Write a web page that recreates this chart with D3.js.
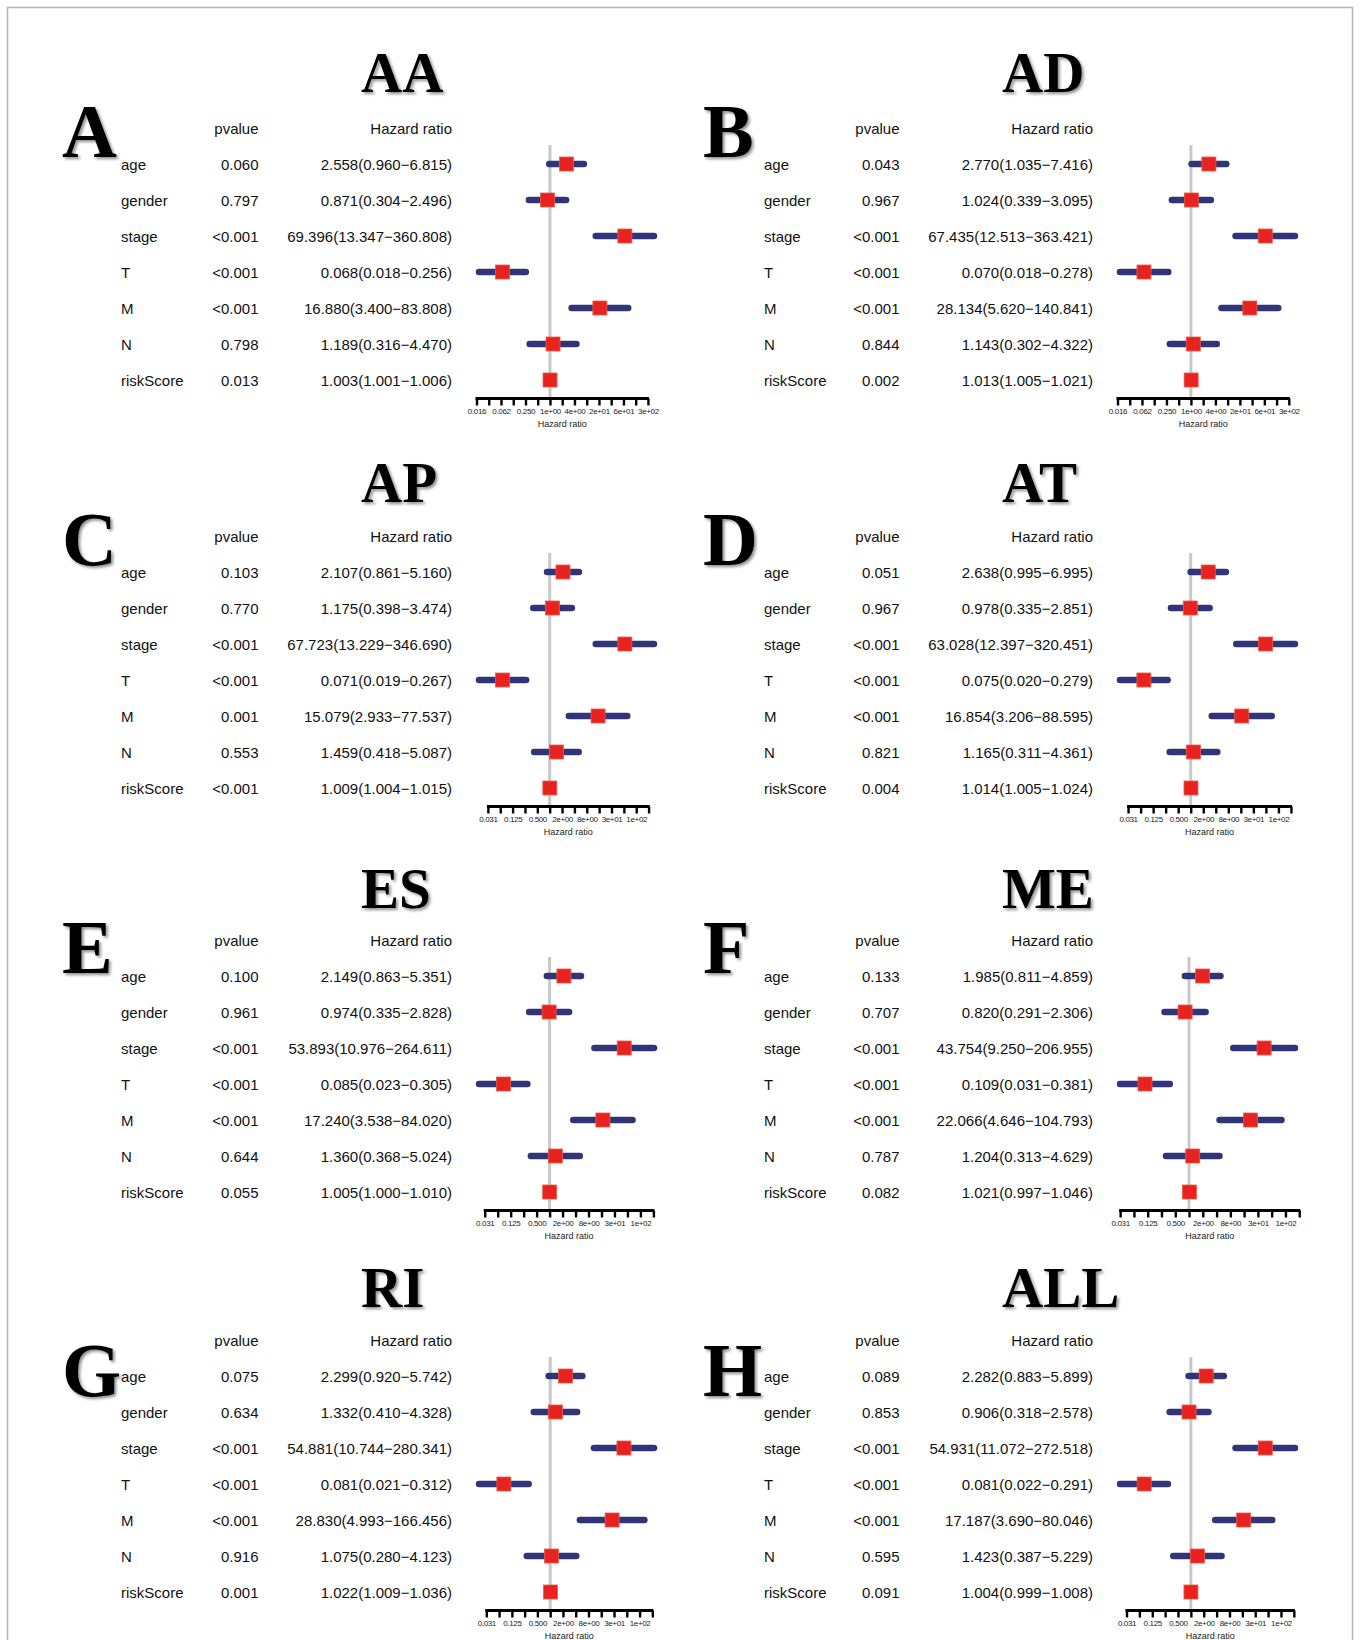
<!DOCTYPE html>
<html>
<head>
<meta charset="utf-8">
<script src="https://cdn.jsdelivr.net/npm/d3@7"></script>
<style>
  body { margin: 0; background: #fff; }
  text { font-family: "Liberation Sans", Arial, sans-serif; }
</style>
</head>
<body>
<div id="graph"></div>
<script>

var w = 1360, h = 1640

// rows of every forest plot
var variables = ['age', 'gender', 'stage', 'T', 'M', 'N', 'riskScore']

var panelNames = ['AA', 'AD', 'AP', 'AT', 'ES', 'ME', 'RI', 'ALL']
var panelLetters = ['A', 'B', 'C', 'D', 'E', 'F', 'G', 'H']

// AA
var aaP = ['0.060', '0.797', '<0.001', '<0.001', '<0.001', '0.798', '0.013']
var aaHR = [2.558, 0.871, 69.396, 0.068, 16.880, 1.189, 1.003]
var aaLow = [0.960, 0.304, 13.347, 0.018, 3.400, 0.316, 1.001]
var aaHigh = [6.815, 2.496, 360.808, 0.256, 83.808, 4.470, 1.006]
// AD
var adP = ['0.043', '0.967', '<0.001', '<0.001', '<0.001', '0.844', '0.002']
var adHR = [2.770, 1.024, 67.435, 0.070, 28.134, 1.143, 1.013]
var adLow = [1.035, 0.339, 12.513, 0.018, 5.620, 0.302, 1.005]
var adHigh = [7.416, 3.095, 363.421, 0.278, 140.841, 4.322, 1.021]
// AP
var apP = ['0.103', '0.770', '<0.001', '<0.001', '0.001', '0.553', '<0.001']
var apHR = [2.107, 1.175, 67.723, 0.071, 15.079, 1.459, 1.009]
var apLow = [0.861, 0.398, 13.229, 0.019, 2.933, 0.418, 1.004]
var apHigh = [5.160, 3.474, 346.690, 0.267, 77.537, 5.087, 1.015]
// AT
var atP = ['0.051', '0.967', '<0.001', '<0.001', '<0.001', '0.821', '0.004']
var atHR = [2.638, 0.978, 63.028, 0.075, 16.854, 1.165, 1.014]
var atLow = [0.995, 0.335, 12.397, 0.020, 3.206, 0.311, 1.005]
var atHigh = [6.995, 2.851, 320.451, 0.279, 88.595, 4.361, 1.024]
// ES
var esP = ['0.100', '0.961', '<0.001', '<0.001', '<0.001', '0.644', '0.055']
var esHR = [2.149, 0.974, 53.893, 0.085, 17.240, 1.360, 1.005]
var esLow = [0.863, 0.335, 10.976, 0.023, 3.538, 0.368, 1.000]
var esHigh = [5.351, 2.828, 264.611, 0.305, 84.020, 5.024, 1.010]
// ME
var meP = ['0.133', '0.707', '<0.001', '<0.001', '<0.001', '0.787', '0.082']
var meHR = [1.985, 0.820, 43.754, 0.109, 22.066, 1.204, 1.021]
var meLow = [0.811, 0.291, 9.250, 0.031, 4.646, 0.313, 0.997]
var meHigh = [4.859, 2.306, 206.955, 0.381, 104.793, 4.629, 1.046]
// RI
var riP = ['0.075', '0.634', '<0.001', '<0.001', '<0.001', '0.916', '0.001']
var riHR = [2.299, 1.332, 54.881, 0.081, 28.830, 1.075, 1.022]
var riLow = [0.920, 0.410, 10.744, 0.021, 4.993, 0.280, 1.009]
var riHigh = [5.742, 4.328, 280.341, 0.312, 166.456, 4.123, 1.036]
// ALL
var allP = ['0.089', '0.853', '<0.001', '<0.001', '<0.001', '0.595', '0.091']
var allHR = [2.282, 0.906, 54.931, 0.081, 17.187, 1.423, 1.004]
var allLow = [0.883, 0.318, 11.072, 0.022, 3.690, 0.387, 0.999]
var allHigh = [5.899, 2.578, 272.518, 0.291, 80.046, 5.229, 1.008]

// axis tick labels (log2 exponents and their printed text)
var wideExp = [-6, -4, -2, 0, 2, 4, 6, 8]
var wideLabels = ['0.016', '0.062', '0.250', '1e+00', '4e+00', '2e+01', '6e+01', '3e+02']
var narrowExp = [-5, -3, -1, 1, 3, 5, 7]
var narrowLabels = ['0.031', '0.125', '0.500', '2e+00', '8e+00', '3e+01', '1e+02']

var panels = [
  {p: aaP, hr: aaHR, lo: aaLow, hi: aaHigh, axis: 'wide'},
  {p: adP, hr: adHR, lo: adLow, hi: adHigh, axis: 'wide'},
  {p: apP, hr: apHR, lo: apLow, hi: apHigh, axis: 'narrow'},
  {p: atP, hr: atHR, lo: atLow, hi: atHigh, axis: 'narrow'},
  {p: esP, hr: esHR, lo: esLow, hi: esHigh, axis: 'narrow'},
  {p: meP, hr: meHR, lo: meLow, hi: meHigh, axis: 'narrow'},
  {p: riP, hr: riHR, lo: riLow, hi: riHigh, axis: 'narrow'},
  {p: allP, hr: allHR, lo: allLow, hi: allHigh, axis: 'narrow'}
]

// layout
var colX = [0, 641]
var rowY = [164, 572, 976, 1376]
var titleDy = [-72, -70, -68, -69]
var letterDy = [-7, -7, -3, 20]
var rowStep = 36
var plotLeft = 479, plotWidth = 175
var axisY = 234.5

var svg = d3.select('#graph')
  .html('')
  .append('svg')
  .attr('width', w)
  .attr('height', h)

var defs = svg.append('defs')
var shadow = defs.append('filter').attr('id', 'shadow')
  .attr('x', '-20%').attr('y', '-20%').attr('width', '140%').attr('height', '140%')
shadow.append('feDropShadow')
  .attr('dx', 2).attr('dy', 2).attr('stdDeviation', 1.6)
  .attr('flood-color', '#000').attr('flood-opacity', 0.45)

svg.append('rect')
  .attr('width', w).attr('height', h)
  .attr('fill', '#fff')

svg.append('rect')
  .attr('x', 7.5).attr('y', 7.5)
  .attr('width', 1345).attr('height', 1700)
  .attr('fill', 'none')
  .attr('stroke', '#b4b4b4')
  .attr('stroke-width', 1.5)

panels.forEach(function(pan, k) {
  var col = k % 2, row = Math.floor(k / 2)
  var g = svg.append('g')
    .attr('transform', 'translate(' + colX[col] + ',' + rowY[row] + ')')

  // title + panel letter
  g.append('text')
    .attr('x', 361).attr('y', titleDy[row])
    .style('font-family', '"Liberation Serif", "Times New Roman", serif')
    .style('font-weight', 'bold')
    .style('font-size', '57px')
    .attr('filter', 'url(#shadow)')
    .text(panelNames[k])

  g.append('text')
    .attr('x', 62).attr('y', letterDy[row])
    .style('font-family', '"Liberation Serif", "Times New Roman", serif')
    .style('font-weight', 'bold')
    .style('font-size', '76px')
    .attr('filter', 'url(#shadow)')
    .text(panelLetters[k])

  // table headers
  g.append('text')
    .attr('x', 258.5).attr('y', -36)
    .attr('text-anchor', 'end').attr('dominant-baseline', 'central')
    .style('font-size', '15px').attr('fill', '#111')
    .text('pvalue')
  g.append('text')
    .attr('x', 452).attr('y', -36)
    .attr('text-anchor', 'end').attr('dominant-baseline', 'central')
    .style('font-size', '15px').attr('fill', '#111')
    .text('Hazard ratio')

  var rows = variables.map(function(v, i) {
    return {name: v, p: pan.p[i], hr: pan.hr[i], lo: pan.lo[i], hi: pan.hi[i]}
  })

  var y = d3.scalePoint()
    .domain(variables)
    .range([0, rowStep * (variables.length - 1)])

  var x = d3.scaleLog().base(2)
    .domain([d3.min(pan.lo), d3.max(pan.hi)])
    .range([plotLeft, plotLeft + plotWidth])

  var fmt = d3.format('.3f')

  var tr = g.append('g').selectAll('.row')
    .data(rows)
    .enter()
    .append('g')
    .attr('class', 'row')
    .attr('transform', function(d) { return 'translate(0,' + y(d.name) + ')' })

  tr.append('text')
    .attr('x', 121 + col * 2)
    .attr('dominant-baseline', 'central')
    .style('font-size', '15px').attr('fill', '#111')
    .text(function(d) { return d.name })
  tr.append('text')
    .attr('x', 258.5)
    .attr('text-anchor', 'end').attr('dominant-baseline', 'central')
    .style('font-size', '15px').attr('fill', '#111')
    .text(function(d) { return d.p })
  tr.append('text')
    .attr('x', 452)
    .attr('text-anchor', 'end').attr('dominant-baseline', 'central')
    .style('font-size', '15px').attr('fill', '#111')
    .text(function(d) {
      return fmt(d.hr) + '(' + fmt(d.lo) + '\u2212' + fmt(d.hi) + ')'
    })

  // reference line at HR = 1
  g.append('line')
    .attr('x1', x(1)).attr('x2', x(1))
    .attr('y1', -19).attr('y2', axisY)
    .attr('stroke', '#c8c8c8')
    .attr('stroke-width', 3)

  // confidence intervals
  g.append('g').selectAll('.ci')
    .data(rows)
    .enter()
    .append('line')
    .attr('class', 'ci')
    .attr('x1', function(d) { return x(d.lo) })
    .attr('x2', function(d) { return x(d.hi) })
    .attr('y1', function(d) { return y(d.name) })
    .attr('y2', function(d) { return y(d.name) })
    .attr('stroke', '#2f3576')
    .attr('stroke-width', 6.5)
    .attr('stroke-linecap', 'round')

  g.append('g').selectAll('.hr')
    .data(rows)
    .enter()
    .append('rect')
    .attr('class', 'hr')
    .attr('x', function(d) { return x(d.hr) - 7 })
    .attr('y', function(d) { return y(d.name) - 7 })
    .attr('width', 14).attr('height', 14)
    .attr('fill', '#e8231f')
    .attr('stroke', '#f05a48')
    .attr('stroke-width', 0.8)

  // log2 axis
  var exps = pan.axis === 'wide' ? wideExp : narrowExp
  var labels = pan.axis === 'wide' ? wideLabels : narrowLabels
  var minorExp = d3.range(exps[0], 9)
  var ax = g.append('g').attr('transform', 'translate(0,' + axisY + ')')

  ax.append('line')
    .attr('x1', x(Math.pow(2, minorExp[0])) - 1)
    .attr('x2', x(Math.pow(2, minorExp[minorExp.length - 1])) + 1)
    .attr('stroke', '#000').attr('stroke-width', 3)

  ax.append('g')
    .call(d3.axisBottom(x)
      .tickValues(minorExp.map(function(e) { return Math.pow(2, e) }))
      .tickFormat('')
      .tickSize(7)
      .tickSizeOuter(0))
    .call(function(s) {
      s.select('.domain').remove()
      s.selectAll('line').attr('stroke', '#000').attr('stroke-width', 2.4)
    })

  ax.append('g')
    .call(d3.axisBottom(x)
      .tickValues(exps.map(function(e) { return Math.pow(2, e) }))
      .tickFormat(function(d, i) { return labels[i] })
      .tickSize(0)
      .tickPadding(10)
      .tickSizeOuter(0))
    .call(function(s) {
      s.select('.domain').remove()
      s.selectAll('text')
        .style('font-family', '"Liberation Sans", Arial, sans-serif')
        .style('font-size', '8px')
        .style('letter-spacing', '-0.35px')
        .attr('fill', '#222')
    })

  ax.append('text')
    .attr('x', (x(Math.pow(2, minorExp[0])) + x(Math.pow(2, minorExp[minorExp.length - 1]))) / 2)
    .attr('y', 28)
    .attr('text-anchor', 'middle')
    .style('font-size', '9px')
    .attr('fill', '#222')
    .text('Hazard ratio')
})

</script>
</body>
</html>
